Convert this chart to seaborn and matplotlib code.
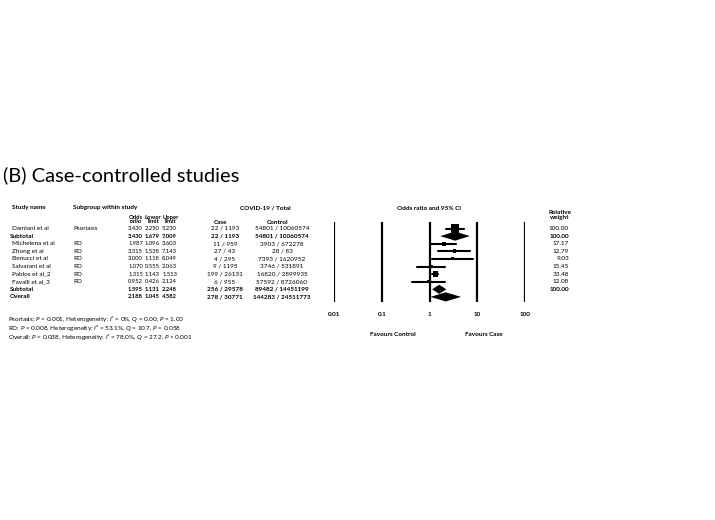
import seaborn as sns
import matplotlib.pyplot as plt
import matplotlib.transforms as mtransforms
import pandas as pd

# Data
studies = ["Damiani et al", "Subtotal", "Michelena et al", "Zhong et al", "Benucci et al",
           "Salvarani et al", "Pablos et al_2", "Favalli et al_3", "Subtotal", "Overall"]
subgroups = ["Psoriasis", "", "RD", "RD", "RD", "RD", "RD", "RD", "", ""]
kind = ["study", "subtotal", "study", "study", "study", "study", "study", "study", "subtotal", "overall"]
odds = [3.430, 3.430, 1.987, 3.315, 3.000, 1.070, 1.315, 0.952, 1.595, 2.188]
lower = [2.250, 1.679, 1.096, 1.538, 1.118, 0.555, 1.143, 0.426, 1.131, 1.045]
upper = [5.230, 7.009, 3.603, 7.143, 8.049, 2.063, 1.513, 2.124, 2.248, 4.582]
case = ["22 / 1193", "22 / 1193", "11 / 959", "27 / 43", "4 / 295", "9 / 1195",
        "199 / 26131", "6 / 955", "256 / 29578", "278 / 30771"]
control = ["54801 / 10060574", "54801 / 10060574", "3903 / 672278", "28 / 83", "7393 / 1620952",
           "3746 / 531891", "16820 / 2899935", "57592 / 8726060", "89482 / 14451199", "144283 / 24511773"]
weight = [100.00, 100.00, 17.17, 12.79, 9.03, 15.45, 33.48, 12.08, 100.00, None]
ticks = [0.01, 0.1, 1, 10, 100]
tick_labels = ["0.01", "0.1", "1", "10", "100"]

df = pd.DataFrame({"study": studies, "subgroup": subgroups, "kind": kind, "odds": odds,
                   "lower": lower, "upper": upper, "case": case, "control": control, "weight": weight})
df["row"] = range(len(df))

W, H = 715, 520
sns.set_theme(style="white")
plt.rcParams["font.family"] = ["Lato", "DejaVu Sans"]
plt.rcParams["text.color"] = "black"
plt.rcParams["mathtext.fontset"] = "custom"
plt.rcParams["mathtext.rm"] = "Lato"
plt.rcParams["mathtext.it"] = "Lato:italic"
plt.rcParams["mathtext.bf"] = "Lato:bold"

fig = plt.figure(figsize=(W / 100, H / 100), dpi=100)


def fx(x):
    return x / W


def fy(y):
    return 1 - y / H


# forest axes: vertical lines from 334 to 525 px, 222 to 302 px
ax = fig.add_axes([fx(334), fy(302), fx(525) - fx(334), fy(222) - fy(302)])
ax.set_xscale("log")
row0, step = 228.5, 7.6

for t in ticks:
    ax.axvline(t, color="black", lw=1.6)

studies_df = df[df["kind"] == "study"].copy()
for _, r in studies_df.iterrows():
    ax.plot([r["lower"], r["upper"]], [r["row"], r["row"]], color="black", lw=1.5)
studies_df["size"] = (1.3 * studies_df["weight"] ** 0.4 * 0.72) ** 2
sns.scatterplot(data=studies_df, x="odds", y="row", size="size",
                sizes=(studies_df["size"].min(), studies_df["size"].max()),
                marker="s", color="black", edgecolor="black", linewidth=0, legend=False, ax=ax)

for _, r in df[df["kind"] != "study"].iterrows():
    h = 0.6
    ax.fill([r["lower"], r["odds"], r["upper"], r["odds"]],
            [r["row"], r["row"] - h, r["row"], r["row"] + h], color="black", lw=0)

ax.set_xlim(0.01, 100)
ax.set_ylim((302 - row0) / step, (222 - row0) / step)
ax.axis("off")

# text table
fs = 4.6
fs_num = 4.2
rowtr = mtransforms.blended_transform_factory(fig.transFigure, ax.transData)
for _, r in df.iterrows():
    bold = r["kind"] != "study"
    fw = "bold" if bold else "normal"
    kw = dict(transform=rowtr, va="center", fontsize=fs, fontweight=fw)
    nk = dict(kw, fontsize=fs_num)
    fig.text(fx(10 if bold else 12), r["row"], r["study"], ha="left", **kw)
    fig.text(fx(73), r["row"], r["subgroup"], ha="left", **kw)
    fig.text(fx(143), r["row"], f"{r['odds']:.3f}", ha="right", **nk)
    fig.text(fx(159.5), r["row"], f"{r['lower']:.3f}", ha="right", **nk)
    fig.text(fx(177), r["row"], f"{r['upper']:.3f}", ha="right", **nk)
    fig.text(fx(225), r["row"], r["case"], ha="center", **kw)
    fig.text(fx(282), r["row"], r["control"], ha="center", **kw)
    if pd.notna(r["weight"]):
        fig.text(fx(569), r["row"], f"{r['weight']:.2f}", ha="right", **kw)

# headers
hk = dict(fontsize=fs, fontweight="bold", va="center")
fig.text(fx(12), fy(208), "Study name", ha="left", **hk)
fig.text(fx(73), fy(208), "Subgroup within study", ha="left", **hk)
fig.text(fx(265), fy(208), "COVID-19 / Total", ha="center", **hk)
fig.text(fx(429), fy(208), "Odds ratio and 95% CI", ha="center", **hk)
for xc, lab in [(136, "Odds\nratio"), (153, "Lower\nlimit"), (170.5, "Upper\nlimit")]:
    fig.text(fx(xc), fy(219), lab, ha="center", linespacing=0.75, **dict(hk, fontsize=fs_num))
fig.text(fx(560), fy(215), "Relative\nweight", ha="center", linespacing=0.75, **hk)
fig.text(fx(220), fy(222), "Case", ha="center", **hk)
fig.text(fx(278), fy(222), "Control", ha="center", **hk)

# tick labels
xtr = mtransforms.blended_transform_factory(ax.transData, fig.transFigure)
for t, lab in zip(ticks, tick_labels):
    fig.text(t, fy(314), lab, transform=xtr, ha="center", va="center", fontsize=fs, fontweight="bold")

fig.text(fx(393), fy(334), "Favours Control", ha="center", **hk)
fig.text(fx(484), fy(334), "Favours Case", ha="center", **hk)

# title
fig.text(fx(3), fy(175), "(B) Case-controlled studies", ha="left", va="center", fontsize=14.5)

# footnotes
notes = [
    r"Psoriasis; $\mathit{P}$ = 0.001, Heterogeneity: $\mathit{I}$² = 0%, $\mathit{Q}$ = 0.00, $\mathit{P}$ = 1.00",
    r"RD: $\mathit{P}$ = 0.008, Heterogeneity: $\mathit{I}$² = 53.1%, $\mathit{Q}$ = 10.7, $\mathit{P}$ = 0.058",
    r"Overall: $\mathit{P}$ = 0.038, Heterogeneity: $\mathit{I}$² = 78.0%, $\mathit{Q}$ = 27.2, $\mathit{P}$ < 0.001",
]
for yp, txt in zip([319.5, 328, 336.5], notes):
    fig.text(fx(8), fy(yp), txt, ha="left", va="center", fontsize=fs)

fig.savefig("out.png", dpi=100)
